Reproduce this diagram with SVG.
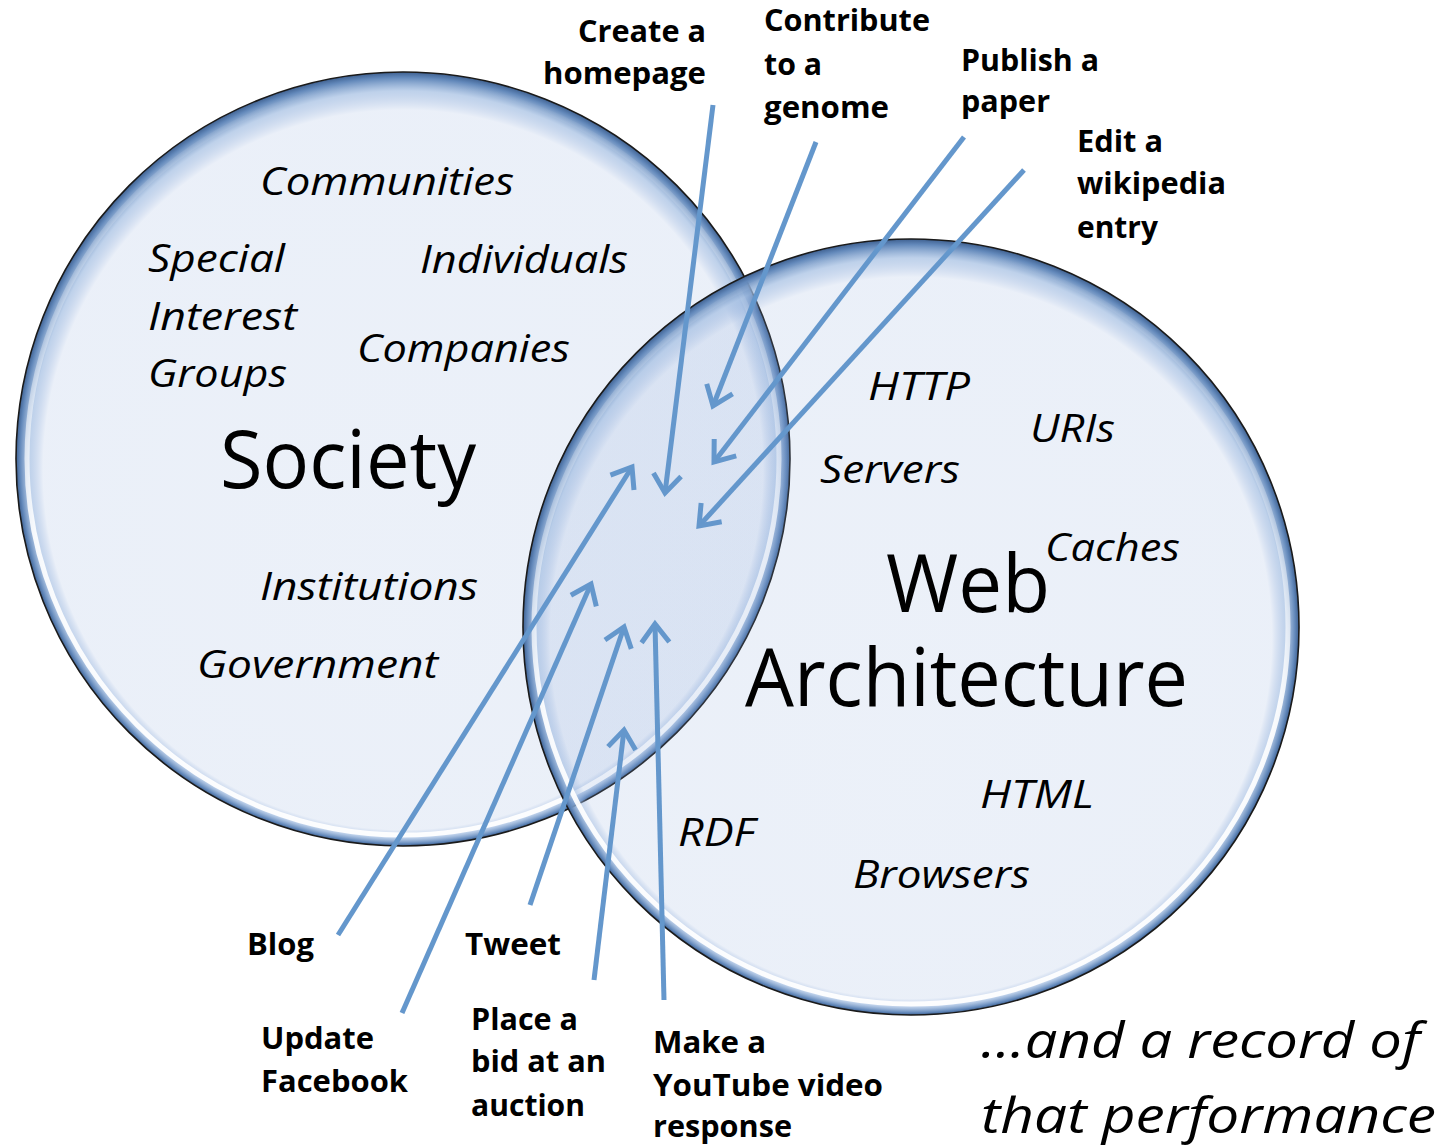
<svg xmlns="http://www.w3.org/2000/svg" width="1451" height="1146" viewBox="0 0 1451 1146">
<style>
text{font-family:'Open Sans','Noto Sans','DejaVu Sans',sans-serif;fill:#000}
.b{font-weight:bold;font-size:30px}
.i{font-style:italic;font-size:38px}
.big{font-size:80px}
.rec{font-style:italic;font-size:50px}
.bub{fill:url(#bubG);stroke:#1a1a1a;stroke-width:1.6}
.hl{fill:none;stroke:url(#hlG);stroke-width:5}
.arr{stroke:#6497cc;stroke-width:5;fill:none;marker-end:url(#chev)}
</style>
<defs>
<radialGradient id="bubG" cx="0.5" cy="0.5" r="0.5" fx="0.5" fy="0.7">
<stop offset="0" stop-color="#86a5d8" stop-opacity="0.16"/>
<stop offset="0.93" stop-color="#86a5d8" stop-opacity="0.17"/>
<stop offset="0.965" stop-color="#a3bee2" stop-opacity="0.7"/>
<stop offset="0.99" stop-color="#6288ba" stop-opacity="1"/>
<stop offset="1" stop-color="#3f6191" stop-opacity="1"/>
</radialGradient>
<linearGradient id="hlG" x1="0" y1="0" x2="0" y2="1">
<stop offset="0" stop-color="#ffffff" stop-opacity="0"/>
<stop offset="0.35" stop-color="#ffffff" stop-opacity="0.3"/>
<stop offset="0.6" stop-color="#ffffff" stop-opacity="0.9"/>
<stop offset="1" stop-color="#ffffff" stop-opacity="0.95"/>
</linearGradient>
<marker id="chev" markerUnits="userSpaceOnUse" viewBox="-30 -20 35 40" markerWidth="35" markerHeight="40" refX="0" refY="0" orient="auto" overflow="visible">
<path d="M-18.4,-13.9 L0,0 L-18.4,13.9" fill="none" stroke="#6497cc" stroke-width="5" stroke-linejoin="miter"/>
</marker>
</defs>
<rect width="1451" height="1146" fill="#ffffff"/>
<g id="society">
<circle class="bub" cx="403" cy="459" r="387"/>
<circle class="hl" cx="403" cy="459" r="376"/>
<text class="big" x="220" y="488" textLength="256" lengthAdjust="spacingAndGlyphs">Society</text>
</g>
<g id="web">
<circle class="bub" cx="911" cy="627" r="388"/>
<circle class="hl" cx="911" cy="627" r="377"/>
<text class="big" x="886" y="612" textLength="164" lengthAdjust="spacingAndGlyphs">Web</text>
<text class="big" x="745" y="706" textLength="443" lengthAdjust="spacingAndGlyphs">Architecture</text>
</g>
<g id="society-items">
<text class="i" x="260" y="195" textLength="254" lengthAdjust="spacingAndGlyphs">Communities</text>
<text class="i" x="148" y="272" textLength="137" lengthAdjust="spacingAndGlyphs">Special</text>
<text class="i" x="148" y="330" textLength="149" lengthAdjust="spacingAndGlyphs">Interest</text>
<text class="i" x="148" y="387" textLength="139" lengthAdjust="spacingAndGlyphs">Groups</text>
<text class="i" x="420" y="273" textLength="208" lengthAdjust="spacingAndGlyphs">Individuals</text>
<text class="i" x="357" y="362" textLength="213" lengthAdjust="spacingAndGlyphs">Companies</text>
<text class="i" x="260" y="600" textLength="218" lengthAdjust="spacingAndGlyphs">Institutions</text>
<text class="i" x="197" y="678" textLength="241" lengthAdjust="spacingAndGlyphs">Government</text>
</g>
<g id="web-items">
<text class="i" x="868" y="400" textLength="102" lengthAdjust="spacingAndGlyphs">HTTP</text>
<text class="i" x="1030" y="442" textLength="85" lengthAdjust="spacingAndGlyphs">URIs</text>
<text class="i" x="820" y="483" textLength="140" lengthAdjust="spacingAndGlyphs">Servers</text>
<text class="i" x="1045" y="561" textLength="135" lengthAdjust="spacingAndGlyphs">Caches</text>
<text class="i" x="980" y="808" textLength="114" lengthAdjust="spacingAndGlyphs">HTML</text>
<text class="i" x="678" y="846" textLength="77" lengthAdjust="spacingAndGlyphs">RDF</text>
<text class="i" x="853" y="888" textLength="177" lengthAdjust="spacingAndGlyphs">Browsers</text>
</g>
<g id="connectors">
<line class="arr" x1="713" y1="105" x2="665" y2="493"/>
<line class="arr" x1="816" y1="142" x2="713" y2="406"/>
<line class="arr" x1="964" y1="137" x2="714" y2="462"/>
<line class="arr" x1="1024" y1="170" x2="699" y2="526"/>
<line class="arr" x1="338" y1="935" x2="632" y2="467"/>
<line class="arr" x1="402" y1="1013" x2="591" y2="584"/>
<line class="arr" x1="530" y1="905" x2="624" y2="627"/>
<line class="arr" x1="594" y1="980" x2="624" y2="730"/>
<line class="arr" x1="664" y1="1000" x2="655" y2="624"/>
</g>
<g id="label-homepage">
<text class="b" x="578" y="42" textLength="128" lengthAdjust="spacingAndGlyphs">Create a</text>
<text class="b" x="543" y="84" textLength="163" lengthAdjust="spacingAndGlyphs">homepage</text>
</g>
<g id="label-genome">
<text class="b" x="764" y="31" textLength="166" lengthAdjust="spacingAndGlyphs">Contribute</text>
<text class="b" x="764" y="75" textLength="58" lengthAdjust="spacingAndGlyphs">to a</text>
<text class="b" x="764" y="118" textLength="125" lengthAdjust="spacingAndGlyphs">genome</text>
</g>
<g id="label-paper">
<text class="b" x="961" y="71" textLength="138" lengthAdjust="spacingAndGlyphs">Publish a</text>
<text class="b" x="961" y="112" textLength="89" lengthAdjust="spacingAndGlyphs">paper</text>
</g>
<g id="label-wikipedia">
<text class="b" x="1077" y="152" textLength="86" lengthAdjust="spacingAndGlyphs">Edit a</text>
<text class="b" x="1077" y="194" textLength="149" lengthAdjust="spacingAndGlyphs">wikipedia</text>
<text class="b" x="1077" y="238" textLength="81" lengthAdjust="spacingAndGlyphs">entry</text>
</g>
<g id="label-blog">
<text class="b" x="247" y="955" textLength="67" lengthAdjust="spacingAndGlyphs">Blog</text>
</g>
<g id="label-tweet">
<text class="b" x="465" y="955" textLength="96" lengthAdjust="spacingAndGlyphs">Tweet</text>
</g>
<g id="label-facebook">
<text class="b" x="261" y="1049" textLength="113" lengthAdjust="spacingAndGlyphs">Update</text>
<text class="b" x="261" y="1092" textLength="147" lengthAdjust="spacingAndGlyphs">Facebook</text>
</g>
<g id="label-auction">
<text class="b" x="471" y="1030" textLength="107" lengthAdjust="spacingAndGlyphs">Place a</text>
<text class="b" x="471" y="1072" textLength="135" lengthAdjust="spacingAndGlyphs">bid at an</text>
<text class="b" x="471" y="1116" textLength="114" lengthAdjust="spacingAndGlyphs">auction</text>
</g>
<g id="label-youtube">
<text class="b" x="653" y="1053" textLength="113" lengthAdjust="spacingAndGlyphs">Make a</text>
<text class="b" x="653" y="1096" textLength="230" lengthAdjust="spacingAndGlyphs">YouTube video</text>
<text class="b" x="653" y="1137" textLength="139" lengthAdjust="spacingAndGlyphs">response</text>
</g>
<g id="record">
<text class="rec" x="981" y="1058" textLength="439" lengthAdjust="spacingAndGlyphs">…and a record of</text>
<text class="rec" x="981" y="1133" textLength="455" lengthAdjust="spacingAndGlyphs">that performance</text>
</g>
</svg>
